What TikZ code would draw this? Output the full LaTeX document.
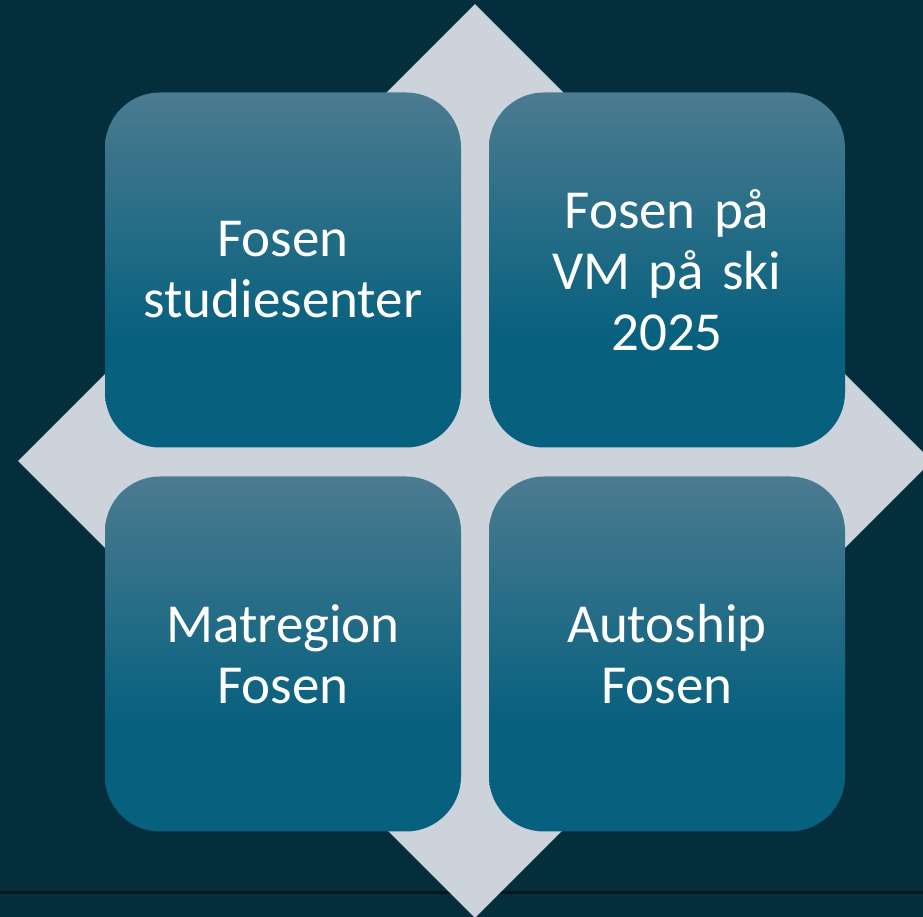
\documentclass[tikz,border=0pt]{standalone}
\usepackage{fontspec}
\setmainfont{Carlito}
\usetikzlibrary{shapes.geometric}
\definecolor{deepsea}{HTML}{052E3C}
\definecolor{rule}{HTML}{03161E}
\definecolor{greyrhomb}{HTML}{CCD3DA}
\definecolor{tiletop}{HTML}{4B7B90}
\definecolor{tilebot}{HTML}{06607E}
\pgfdeclareverticalshading{tileshade}{100bp}{color(0bp)=(tilebot); color(25bp)=(tilebot); color(40bp)=(tilebot); color(75bp)=(tiletop); color(100bp)=(tiletop)}
\tikzstyle{tile} = [rectangle, shading=tileshade, text=white,
text width=330pt, align=center, rounded corners=55pt, minimum width=356pt, minimum height=355pt,
font=\fontsize{55}{61}\selectfont]
\tikzstyle{rhomb} = [diamond, fill=greyrhomb, minimum width=914pt, minimum height=914pt, inner sep=0pt]

\begin{document}
\begin{tikzpicture}[x=1pt, y=1pt]
    \fill [deepsea] (0,0) rectangle (923,917);
    \useasboundingbox (0,0) rectangle (923,917);
    \coordinate (ruleleft) at (0,24);
    \coordinate (ruleright) at (923,24);
    \draw [rule, line width=3pt] (ruleleft) -- (ruleright);
    \node [rhomb] (back) at (475,456) {};
    \node [tile] (studie) at (283,647) {Fosen\\studiesenter};
    \node [tile, right of=studie, node distance=384pt] (vmski) {Fosen på\\VM på ski\\2025};
    \node [tile, below of=studie, node distance=384pt] (matregion) {Matregion\\Fosen};
    \node [tile, right of=matregion, node distance=384pt] (autoship) {Autoship\\Fosen};
\end{tikzpicture}
\end{document}
